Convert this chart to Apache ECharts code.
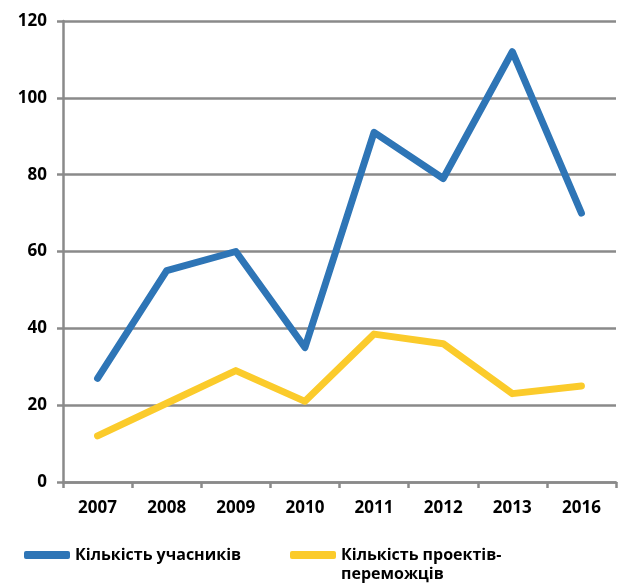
<!DOCTYPE html>
<html><head><meta charset="utf-8">
<script src="https://cdn.jsdelivr.net/npm/echarts@6/dist/echarts.min.js"></script>
<style>html,body{margin:0;padding:0;background:#fff}#c{width:619px;height:586px}</style>
</head><body><div id="c"></div>
<script>
const categories = ['2007','2008','2009','2010','2011','2012','2013','2016'];
const participants = [27, 55, 60, 35, 91, 79, 112, 70];
const winners = [12, 20.5, 29, 21, 38.5, 36, 23, 25];
const seriesNames = ['Кількість учасників', 'Кількість проектів-переможців'];
const legendLines = ['Кількість проектів-', 'переможців'];

const chart = echarts.init(document.getElementById('c'));
const axisGray = '#8a8a8a';
const font = '"Open Sans", "Noto Sans", sans-serif';
const legendText = {color: '#000', fontWeight: 'bold', fontSize: 16, fontFamily: font};
chart.setOption({
  animation: false,
  grid: {left: 63, right: 3, top: 21, bottom: 104},
  xAxis: {
    type: 'category', data: categories, boundaryGap: true,
    axisLine: {lineStyle: {color: axisGray, width: 2.5}},
    axisTick: {show: true, length: 6, lineStyle: {color: axisGray, width: 2.5}},
    axisLabel: {color: '#000', fontWeight: 'bold', fontSize: 17, fontFamily: font, margin: 18}
  },
  yAxis: {
    type: 'value', min: 0, max: 120, interval: 20,
    axisLine: {show: true, lineStyle: {color: axisGray, width: 2.5}},
    axisTick: {show: true, length: 6, lineStyle: {color: axisGray, width: 2.5}},
    splitLine: {lineStyle: {color: axisGray, width: 2.5}},
    axisLabel: {color: '#000', fontWeight: 'bold', fontSize: 17, fontFamily: font, margin: 16}
  },
  legend: [
    {data: [seriesNames[0]], left: 19, top: 542, icon: 'roundRect', itemWidth: 46, itemHeight: 8,
     itemGap: 5, textStyle: legendText},
    {data: [seriesNames[1]], left: 285, top: 542, icon: 'roundRect', itemWidth: 46, itemHeight: 8,
     formatter: () => legendLines[0], textStyle: legendText}
  ],
  graphic: [
    {type: 'text', left: 341, top: 566, style: {text: legendLines[1], fill: '#000', font: 'bold 16px ' + font}}
  ],
  series: [
    {name: seriesNames[0], type: 'line', data: participants, symbol: 'none',
     lineStyle: {color: '#2E75B6', width: 7, cap: 'round', join: 'round'}, itemStyle: {color: '#2E75B6'}},
    {name: seriesNames[1], type: 'line', data: winners, symbol: 'none',
     lineStyle: {color: '#FBCB2B', width: 7, cap: 'round', join: 'round'}, itemStyle: {color: '#FBCB2B'}}
  ]
});
</script></body></html>
